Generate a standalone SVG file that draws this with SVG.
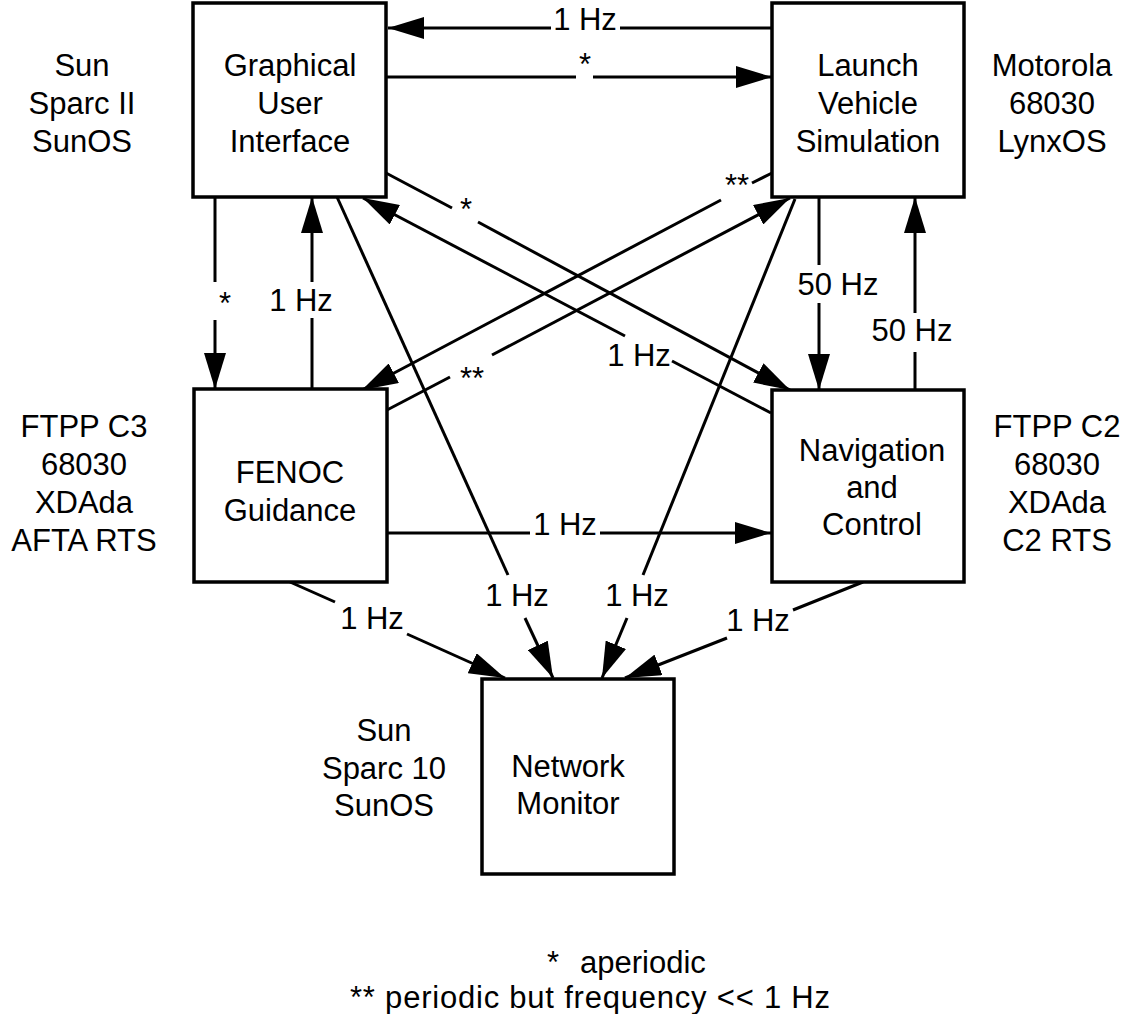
<svg xmlns="http://www.w3.org/2000/svg" width="1123" height="1014" viewBox="0 0 1123 1014">
<style>
  .box { fill: #fff; stroke: #000; stroke-width: 3.5; }
  .t { font-family: "Liberation Sans", Arial, sans-serif; font-size: 31px; fill: #000; text-anchor: middle; }
  .s { text-anchor: start; }
  .c { fill: none; stroke: #000; stroke-width: 3; }
  .a { marker-end: url(#ah); }
</style>
<defs>
  <marker id="ah" markerUnits="userSpaceOnUse" markerWidth="36" markerHeight="22" refX="36" refY="11" orient="auto">
    <path d="M0,0 L36,11 L0,22 z" fill="#000"/>
  </marker>
</defs>
<rect width="1123" height="1014" fill="#fff"/>

<g id="connectors">
  <!-- LVS -> GUI 1 Hz -->
  <line class="c" x1="772" y1="28" x2="620" y2="28"/>
  <line class="c a" x1="551" y1="28" x2="388" y2="28"/>
  <text class="t" x="585" y="30">1 Hz</text>
  <!-- GUI -> LVS * -->
  <line class="c" x1="386" y1="77" x2="576" y2="77"/>
  <line class="c a" x1="593" y1="77" x2="772" y2="77"/>
  <text class="t" x="585" y="75">*</text>
  <!-- GUI -> FENOC * -->
  <line class="c" x1="215" y1="197" x2="215" y2="282"/>
  <line class="c a" x1="215" y1="320" x2="215" y2="389"/>
  <text class="t" x="225" y="314">*</text>
  <!-- FENOC -> GUI 1 Hz -->
  <line class="c" x1="312" y1="389" x2="312" y2="318"/>
  <line class="c a" x1="312" y1="282" x2="312" y2="197"/>
  <text class="t" x="301" y="311">1 Hz</text>
  <!-- LVS -> Nav 50 Hz -->
  <line class="c" x1="819" y1="197" x2="819" y2="265"/>
  <line class="c a" x1="819" y1="303" x2="819" y2="390"/>
  <text class="t" x="838" y="295">50 Hz</text>
  <!-- Nav -> LVS 50 Hz -->
  <line class="c" x1="915" y1="390" x2="915" y2="352"/>
  <line class="c a" x1="915" y1="313" x2="915" y2="197"/>
  <text class="t" x="912" y="341">50 Hz</text>
  <!-- GUI -> Nav * -->
  <line class="c" x1="386" y1="173" x2="452" y2="208"/>
  <line class="c a" x1="478" y1="222" x2="790" y2="390"/>
  <text class="t" x="466" y="220">*</text>
  <!-- Nav -> GUI 1 Hz -->
  <line class="c" x1="771" y1="413" x2="672" y2="361"/>
  <line class="c a" x1="625" y1="336" x2="363" y2="198"/>
  <text class="t" x="639" y="366">1 Hz</text>
  <!-- LVS -> FENOC ** -->
  <line class="c" x1="772" y1="173" x2="752" y2="183"/>
  <line class="c a" x1="721" y1="200" x2="362" y2="390"/>
  <text class="t" x="737" y="196">**</text>
  <!-- FENOC -> LVS ** -->
  <line class="c" x1="387" y1="410" x2="450" y2="377"/>
  <line class="c a" x1="492" y1="355" x2="790" y2="198"/>
  <text class="t" x="472" y="389">**</text>
  <!-- FENOC -> Nav 1 Hz -->
  <line class="c" x1="387" y1="533" x2="530" y2="533"/>
  <line class="c a" x1="600" y1="533" x2="771" y2="533"/>
  <text class="t" x="565" y="535">1 Hz</text>
  <!-- GUI -> NM 1 Hz -->
  <line class="c" x1="337" y1="197" x2="508" y2="575"/>
  <line class="c a" x1="525" y1="618" x2="553" y2="678"/>
  <text class="t" x="517" y="606">1 Hz</text>
  <!-- LVS -> NM 1 Hz -->
  <line class="c" x1="795" y1="199" x2="643" y2="575"/>
  <line class="c a" x1="627" y1="618" x2="602" y2="678"/>
  <text class="t" x="637" y="606">1 Hz</text>
  <!-- FENOC -> NM 1 Hz -->
  <line class="c" x1="290" y1="582" x2="335" y2="602"/>
  <line class="c a" x1="407" y1="634" x2="505" y2="678"/>
  <text class="t" x="372" y="629">1 Hz</text>
  <!-- Nav -> NM 1 Hz -->
  <line class="c" x1="863" y1="582" x2="793" y2="610"/>
  <line class="c a" x1="727" y1="638" x2="625" y2="678"/>
  <text class="t" x="758" y="631">1 Hz</text>
</g>

<g id="gui">
  <rect class="box" x="193" y="3" width="193" height="194"/>
  <text class="t" x="290" y="76">Graphical</text>
  <text class="t" x="290" y="114">User</text>
  <text class="t" x="290" y="152">Interface</text>
</g>
<g id="gui-platform">
  <text class="t" x="82" y="76">Sun</text>
  <text class="t" x="82" y="114">Sparc II</text>
  <text class="t" x="82" y="152">SunOS</text>
</g>

<g id="lvs">
  <rect class="box" x="772" y="3" width="192" height="194"/>
  <text class="t" x="868" y="76">Launch</text>
  <text class="t" x="868" y="114">Vehicle</text>
  <text class="t" x="868" y="152">Simulation</text>
</g>
<g id="lvs-platform">
  <text class="t" x="1052" y="76">Motorola</text>
  <text class="t" x="1052" y="114">68030</text>
  <text class="t" x="1052" y="152">LynxOS</text>
</g>

<g id="fenoc">
  <rect class="box" x="194" y="389" width="193" height="193"/>
  <text class="t" x="290" y="483">FENOC</text>
  <text class="t" x="290" y="521">Guidance</text>
</g>
<g id="fenoc-platform">
  <text class="t" x="84" y="437">FTPP C3</text>
  <text class="t" x="84" y="475">68030</text>
  <text class="t" x="84" y="513">XDAda</text>
  <text class="t" x="84" y="551">AFTA RTS</text>
</g>

<g id="nav">
  <rect class="box" x="772" y="390" width="192" height="192"/>
  <text class="t" x="872" y="461">Navigation</text>
  <text class="t" x="872" y="498">and</text>
  <text class="t" x="872" y="535">Control</text>
</g>
<g id="nav-platform">
  <text class="t" x="1057" y="437">FTPP C2</text>
  <text class="t" x="1057" y="475">68030</text>
  <text class="t" x="1057" y="513">XDAda</text>
  <text class="t" x="1057" y="551">C2 RTS</text>
</g>

<g id="nm">
  <rect class="box" x="482" y="679" width="192" height="195"/>
  <text class="t" x="568" y="777">Network</text>
  <text class="t" x="568" y="814">Monitor</text>
</g>
<g id="nm-platform">
  <text class="t" x="384" y="741">Sun</text>
  <text class="t" x="384" y="779">Sparc 10</text>
  <text class="t" x="384" y="816">SunOS</text>
</g>

<g id="legend">
  <text class="t s" x="547" y="973">*</text>
  <text class="t s" x="580" y="973">aperiodic</text>
  <text class="t s" x="350" y="1008" textLength="480" lengthAdjust="spacing">** periodic but frequency &lt;&lt; 1 Hz</text>
</g>
</svg>
